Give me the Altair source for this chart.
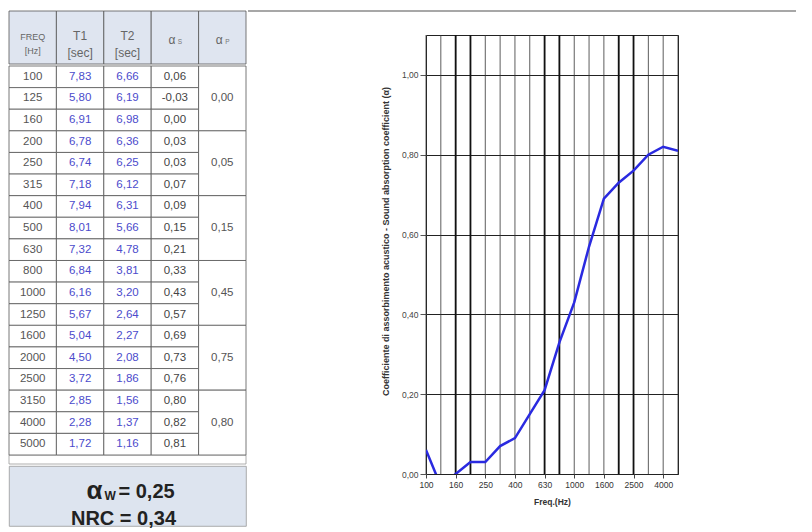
import altair as alt
import pandas as pd

# ---------------- data ----------------
freqs = ["100", "125", "160", "200", "250", "315", "400", "500", "630", "800",
         "1000", "1250", "1600", "2000", "2500", "3150", "4000", "5000"]
t1 = ["7,83", "5,80", "6,91", "6,78", "6,74", "7,18", "7,94", "8,01", "7,32", "6,84",
      "6,16", "5,67", "5,04", "4,50", "3,72", "2,85", "2,28", "1,72"]
t2 = ["6,66", "6,19", "6,98", "6,36", "6,25", "6,12", "6,31", "5,66", "4,78", "3,81",
      "3,20", "2,64", "2,27", "2,08", "1,86", "1,56", "1,37", "1,16"]
alpha_s = [0.06, -0.03, 0.00, 0.03, 0.03, 0.07, 0.09, 0.15, 0.21, 0.33,
           0.43, 0.57, 0.69, 0.73, 0.76, 0.80, 0.82, 0.81]
alpha_p = ["0,00", "0,05", "0,15", "0,45", "0,75", "0,80"]
alpha_w = "0,25"
nrc = "0,34"
header_labels = ["FREQ\n[Hz]", "T1\n[sec]", "T2\n[sec]", "α", "α"]
header_subs = ["", "", "", "S", "P"]
x_tick_labels = ["100", "160", "250", "400", "630", "1000", "1600", "2500", "4000"]
y_ticks = [0.0, 0.2, 0.4, 0.6, 0.8, 1.0]
major_freqs = ["160", "200", "630", "800", "2000", "2500"]
y_title = "Coefficiente di assorbimento acustico - Sound absorption coefficient (α)"
x_title = "Freq.(Hz)"

# ---------------- layout constants ----------------
FONT = "Liberation Sans"
TABLE_W = 237
HEADER_H = 53
ROW_H = 21.6
GAP = 9
BODY_H = round(ROW_H * 18 + GAP)
GAP_ROWS = GAP / ROW_H
SUM_H = 60
GRID = "#555"
PLOT_W = 252
PLOT_H = 439
TOP_SPACE = 22


def comma(v):
    return f"{v:.2f}".replace(".", ",")


xs = alt.Scale(domain=[0, 5], nice=False, zero=False)

# ---------------- header ----------------
header_df = pd.DataFrame({"col": list(range(5)), "label": header_labels, "sub": header_subs})
hbase = alt.Chart(header_df).transform_calculate(
    x0="datum.col", x1="datum.col + 1", xc="datum.col + 0.5")
h_rect = hbase.mark_rect(fill="#dfe5f0", stroke=GRID, strokeWidth=0.8).encode(
    x=alt.X("x0:Q", scale=xs, axis=None), x2="x1:Q",
    y=alt.value(0), y2=alt.value(HEADER_H))
h_freq = hbase.transform_filter("datum.col == 0").mark_text(
    fontSize=9, lineBreak="\n", lineHeight=14, color="#666").encode(
    x=alt.X("xc:Q", scale=xs, axis=None), y=alt.value(HEADER_H / 2 - 1), text="label:N")
h_t = hbase.transform_filter("datum.col == 1 || datum.col == 2").mark_text(
    fontSize=12, lineBreak="\n", lineHeight=17, color="#666").encode(
    x=alt.X("xc:Q", scale=xs, axis=None), y=alt.value(HEADER_H / 2 - 2), text="label:N")
h_alpha = hbase.transform_filter("datum.col >= 3").mark_text(
    fontSize=12, color="#666", dx=-3).encode(
    x=alt.X("xc:Q", scale=xs, axis=None), y=alt.value(HEADER_H / 2 + 2), text="label:N")
h_sub = hbase.transform_filter("datum.col >= 3").mark_text(
    fontSize=6.5, color="#777", dx=5, dy=2).encode(
    x=alt.X("xc:Q", scale=xs, axis=None), y=alt.value(HEADER_H / 2 + 2), text="sub:N")
header = alt.layer(h_rect, h_freq, h_t, h_alpha, h_sub).properties(width=TABLE_W, height=HEADER_H)

# ---------------- body ----------------
cells = []
kinds = ["freq", "t", "t", "as"]
for i, f in enumerate(freqs):
    for c, txt in enumerate([f, t1[i], t2[i], comma(alpha_s[i])]):
        cells.append({"row": i, "col": c, "text": txt, "kind": kinds[c]})
cells_df = pd.DataFrame(cells)
groups_df = pd.DataFrame({"g": list(range(len(alpha_p))), "text": alpha_p})

ys = alt.Scale(domain=[0, 18 + GAP_ROWS], nice=False, zero=False, reverse=True)

cbase = alt.Chart(cells_df).transform_calculate(
    x0="datum.col", x1="datum.col + 1", xc="datum.col + 0.5",
    y0="datum.row", y1="datum.row + 1", yc="datum.row + 0.5")
c_rect = cbase.mark_rect(fill="white", stroke=GRID, strokeWidth=0.8).encode(
    x=alt.X("x0:Q", scale=xs, axis=None), x2="x1:Q",
    y=alt.Y("y0:Q", scale=ys, axis=None), y2="y1:Q")


def cell_text(kind, color):
    return cbase.transform_filter(f"datum.kind == '{kind}'").mark_text(
        fontSize=11.5, color=color, dy=0).encode(
        x=alt.X("xc:Q", scale=xs, axis=None),
        y=alt.Y("yc:Q", scale=ys, axis=None), text="text:N")


gbase = alt.Chart(groups_df).transform_calculate(
    x0="4", x1="5", xc="4.5", y0="datum.g * 3", y1="datum.g * 3 + 3", yc="datum.g * 3 + 1.5")
g_rect = gbase.mark_rect(fill="white", stroke=GRID, strokeWidth=0.8).encode(
    x=alt.X("x0:Q", scale=xs, axis=None), x2="x1:Q",
    y=alt.Y("y0:Q", scale=ys, axis=None), y2="y1:Q")
g_text = gbase.mark_text(fontSize=11.5, color="#555", dy=0).encode(
    x=alt.X("xc:Q", scale=xs, axis=None),
    y=alt.Y("yc:Q", scale=ys, axis=None), text="text:N")

gap_rect = alt.Chart(pd.DataFrame({"k": [0]})).transform_calculate(
    x0="0", x1="5", y0="18", y1=f"{18 + GAP_ROWS}").mark_rect(
    fill="white", stroke="#999", strokeWidth=0.8).encode(
    x=alt.X("x0:Q", scale=xs, axis=None), x2="x1:Q",
    y=alt.Y("y0:Q", scale=ys, axis=None), y2="y1:Q")

body = alt.layer(
    gap_rect, c_rect, g_rect,
    cell_text("freq", "#555"), cell_text("t", "#4b4bcc"), cell_text("as", "#444"),
    g_text,
).properties(width=TABLE_W, height=BODY_H)

# ---------------- summary ----------------
sum_df = pd.DataFrame({"line": ["aw", "nrc"], "a": ["α", ""], "w": ["W", ""],
                       "rest": ["= " + alpha_w, "NRC = " + nrc]})
sys_ = alt.Scale(type="point", domain=["aw", "nrc"], padding=0.611, align=0.788)
sbase = alt.Chart(sum_df).transform_calculate(xc="2.5")
s_a = sbase.transform_filter("datum.line == 'aw'").mark_text(
    fontSize=26, fontWeight="bold", color="#222", align="right", dx=-25, dy=-1).encode(
    x=alt.X("xc:Q", scale=xs, axis=None), y=alt.Y("line:N", scale=sys_, axis=None), text="a:N")
s_w = sbase.transform_filter("datum.line == 'aw'").mark_text(
    fontSize=12, fontWeight="bold", color="#222", align="left", dx=-23, dy=4).encode(
    x=alt.X("xc:Q", scale=xs, axis=None), y=alt.Y("line:N", scale=sys_, axis=None), text="w:N")
s_r = sbase.transform_filter("datum.line == 'aw'").mark_text(
    fontSize=20, fontWeight="bold", color="#222", align="left", dx=-9).encode(
    x=alt.X("xc:Q", scale=xs, axis=None), y=alt.Y("line:N", scale=sys_, axis=None), text="rest:N")
s_n = sbase.transform_filter("datum.line == 'nrc'").mark_text(
    fontSize=20, fontWeight="bold", color="#222", dx=-4).encode(
    x=alt.X("xc:Q", scale=xs, axis=None), y=alt.Y("line:N", scale=sys_, axis=None), text="rest:N")
summary = alt.layer(s_a, s_w, s_r, s_n).properties(
    width=TABLE_W, height=SUM_H,
    view=alt.ViewBackground(fill="#dde4ef", stroke="#999", strokeWidth=0.8))

table = alt.vconcat(header, body, summary, spacing=0)

# ---------------- line chart ----------------
line_df = pd.DataFrame({"freq": freqs, "alpha": alpha_s})
grid_df = pd.DataFrame({"freq": freqs})
major_df = pd.DataFrame({"freq": major_freqs})

x_axis = alt.Axis(values=x_tick_labels, labelAngle=0, grid=False, domain=False,
                  tickSize=4, tickColor="#444", labelFontSize=8.5, labelColor="#333",
                  labelPadding=2, title=x_title, titleFontSize=8.5, titleFontWeight="bold",
                  titleColor="#333", titlePadding=9)
x_enc = alt.X("freq:O", scale=alt.Scale(type="point", padding=0, domain=freqs), axis=x_axis)
y_enc = alt.Y("alpha:Q",
              scale=alt.Scale(domain=[0, 1.1], nice=False, zero=False),
              axis=alt.Axis(values=y_ticks,
                            labelExpr="replace(format(datum.value, '.2f'), '.', ',')",
                            grid=True, gridColor="#222", gridWidth=1, domain=False,
                            tickColor="#555", tickSize=6, labelFontSize=8.5, labelColor="#444",
                            labelPadding=2, title=y_title, titleFontSize=9,
                            titleFontWeight="bold", titleColor="#333", titlePadding=11,
                            titleY=206))

vlines = alt.Chart(grid_df).mark_rule(color="#333", strokeWidth=0.8).encode(x=x_enc)
thick = alt.Chart(major_df).mark_rule(color="#111", strokeWidth=1.8).encode(x=x_enc)
curve = alt.Chart(line_df).mark_line(color="#2a2ae0", strokeWidth=2.5, clip=True).encode(
    x=x_enc, y=y_enc)

line_chart = alt.layer(vlines, thick, curve).properties(
    width=PLOT_W, height=PLOT_H,
    view=alt.ViewBackground(stroke="#222", strokeWidth=1))

# spacer above the plot carrying the thin page rule at the top
spacer = alt.Chart(pd.DataFrame({"k": [0]})).mark_rule(
    color="#8a8a8a", strokeWidth=1.5).encode(
    x=alt.value(-178), x2=alt.value(370), y=alt.value(0)).properties(
    width=PLOT_W, height=TOP_SPACE)

right = alt.vconcat(spacer, line_chart, spacing=0)

chart = alt.hconcat(table, right, spacing=0).properties(
    padding={"left": 0, "top": 2, "right": 0, "bottom": 0}
).configure(font=FONT).configure_view(stroke=None)

chart.save("out.html", embed_options={"renderer": "svg", "actions": False})
